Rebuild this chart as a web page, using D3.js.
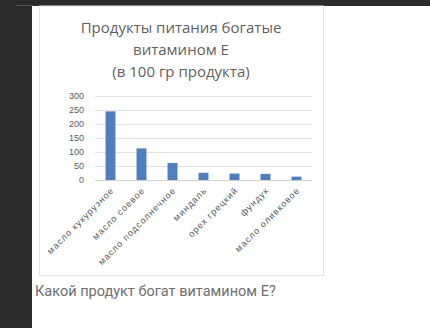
<!DOCTYPE html>
<html><head><meta charset="utf-8">
<script src="https://cdn.jsdelivr.net/npm/d3@7"></script>
<style>
html,body{margin:0;padding:0;background:#fff;}
svg{display:block;}
</style></head>
<body>
<svg id="c" width="430" height="328"></svg>
<script>
const categories = ["масло кукурузное","масло соевое","масло подсолнечное","миндаль","орех грецкий","фундук","масло оливковое"];
const values = [245, 113, 61, 26, 23, 22, 12];
const yTicks = [0, 50, 100, 150, 200, 250, 300];
const titleLines = ["Продукты питания богатые","витамином Е","(в 100 гр продукта)"];
const question = "Какой продукт богат витамином Е?";

const svg = d3.select("#c");
svg.append("rect").attr("x",0).attr("y",0).attr("width",430).attr("height",328).attr("fill","#fff");
svg.append("rect").attr("x",0).attr("y",0).attr("width",430).attr("height",6).attr("fill","#2b2b2b");
svg.append("rect").attr("x",0).attr("y",0).attr("width",32).attr("height",328).attr("fill","#2b2b2b");
svg.append("line").attr("x1",16).attr("x2",33).attr("y1",5.5).attr("y2",5.5).attr("stroke","#555");

svg.append("rect").attr("x",39.5).attr("y",6).attr("width",284).attr("height",269.5)
  .attr("fill","#fff").attr("stroke","#e3e3e3").attr("stroke-width",1);

svg.append("g").selectAll("text").data(titleLines).join("text")
  .attr("x",181).attr("y",(d,i)=>33+i*22)
  .attr("text-anchor","middle")
  .attr("font-family","'Open Sans', sans-serif").attr("font-size",15)
  .attr("fill","#5f5f5f").text(d=>d);

const x = d3.scaleBand().domain(categories).range([95,312]).paddingInner(0.68).paddingOuter(0.34);
const y = d3.scaleLinear().domain([0,300]).range([180,96]);

svg.append("g").selectAll("line").data(yTicks).join("line")
  .attr("x1",95).attr("x2",312)
  .attr("y1",d=>Math.round(y(d))+0.5).attr("y2",d=>Math.round(y(d))+0.5)
  .attr("stroke",d=>d===0?"#d0d0d0":"#e2e2e2").attr("stroke-width",1);

const yAxis = d3.axisLeft(y).tickValues(yTicks).tickSize(0).tickPadding(0);
const yg = svg.append("g").attr("transform","translate(84,0)").call(yAxis);
yg.select(".domain").remove();
yg.selectAll("text").attr("font-family","'Liberation Sans', Arial, sans-serif").attr("font-size",9)
  .attr("fill","#595959");

svg.append("g").selectAll("rect").data(values).join("rect")
  .attr("x",(d,i)=>x(categories[i]))
  .attr("width",x.bandwidth())
  .attr("y",d=>y(d))
  .attr("height",d=>y(0)-y(d))
  .attr("fill","#4f7fbf");

const xAxis = d3.axisBottom(x).tickSize(0).tickPadding(0);
const xg = svg.append("g").attr("transform","translate(0,180)").call(xAxis);
xg.select(".domain").remove();
xg.selectAll("text")
  .attr("font-family","'Liberation Sans', Arial, sans-serif").attr("font-size",9)
  .attr("letter-spacing","1px")
  .attr("fill","#595959")
  .attr("text-anchor","end")
  .attr("dy",null)
  .attr("transform","translate(4,11) rotate(-45)");

svg.append("text").attr("x",35).attr("y",296)
  .attr("font-family","Roboto, 'Noto Sans', sans-serif").attr("font-size",14.5)
  .attr("fill","#6f6f6f").text(question);
</script>
</body></html>
